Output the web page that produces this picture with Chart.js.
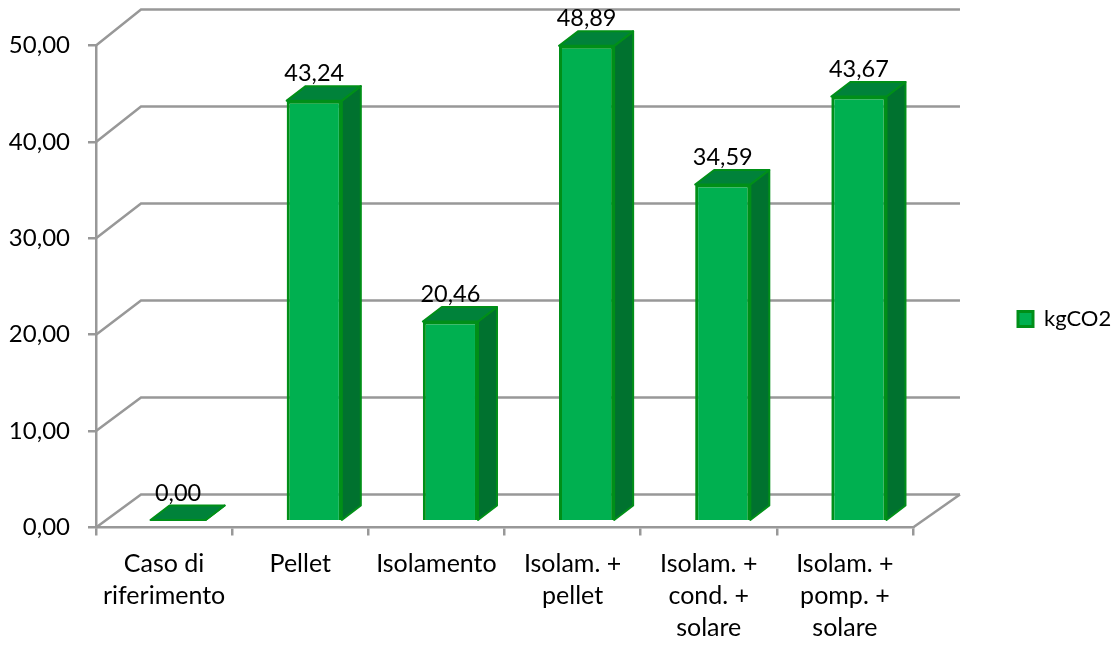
<!DOCTYPE html>
<html>
<head>
<meta charset="utf-8">
<title>kgCO2</title>
<script src="https://cdn.jsdelivr.net/npm/chart.js@4"></script>
<style>
  html, body { margin: 0; padding: 0; background: #fff; }
  #wrap { width: 1119px; height: 646px; }
</style>
</head>
<body>
<div id="wrap"><canvas id="chart"></canvas></div>
<script>
const categories = [
    ['Caso di', 'riferimento'],
    'Pellet',
    'Isolamento',
    ['Isolam. +', 'pellet'],
    ['Isolam. +', 'cond. +', 'solare'],
    ['Isolam. +', 'pomp. +', 'solare']
];
const seriesName = 'kgCO2';
const co2Values = [0.00, 43.24, 20.46, 48.89, 34.59, 43.67];

const FONT = 'Lato, "Noto Sans", sans-serif';
const GREY = '#989898';
const FRONT = '#00B050', EDGE = '#008F18', TOP = '#00823A', SIDE = '#00722F';

// depth of the back wall, of the bars and where the bars sit on the floor
const wall = { dx: 45, dy: -33 };
const barDepth = { dx: 19, dy: -14.5 };
const barShift = { dx: 14, dy: -7.5 };

function fmt(v) {
    return v.toFixed(2).replace('.', ',');
}

function poly(ctx, pts, fill) {
    ctx.beginPath();
    pts.forEach((p, i) => i ? ctx.lineTo(p[0], p[1]) : ctx.moveTo(p[0], p[1]));
    ctx.closePath();
    ctx.fillStyle = fill;
    ctx.fill();
    ctx.strokeStyle = EDGE;
    ctx.lineWidth = 2;
    ctx.lineJoin = 'round';
    ctx.stroke();
}

// Back wall, side wall and floor lines
const wallsPlugin = {
    id: 'walls',
    beforeDatasetsDraw(chart) {
        const { ctx, chartArea, scales } = chart;
        ctx.save();
        ctx.strokeStyle = GREY;
        ctx.lineWidth = 2.5;
        scales.y.ticks.forEach(t => {
            const y = scales.y.getPixelForValue(t.value);
            // the back wall reads on the taller scale too
            const backY = scales.yBars.getPixelForValue(t.value) + wall.dy;
            ctx.beginPath();
            ctx.moveTo(chartArea.left, y);
            ctx.lineTo(chartArea.left + wall.dx, backY);
            ctx.lineTo(chartArea.right + wall.dx + 2, backY);
            ctx.stroke();
        });
        ctx.beginPath();
        ctx.moveTo(chartArea.right, chartArea.bottom);
        ctx.lineTo(chartArea.right + wall.dx + 2, chartArea.bottom + wall.dy);
        ctx.stroke();
        ctx.restore();
    }
};

// Bar sides go under the dataset, the front face is shifted back on the floor
const bars3dPlugin = {
    id: 'bars3d',
    beforeDatasetDraw(chart, args) {
        const { ctx } = chart;
        ctx.save();
        ctx.translate(barShift.dx, barShift.dy);
        args.meta.data.forEach(bar => {
            const l = bar.x - bar.width / 2, r = bar.x + bar.width / 2;
            const d = barDepth;
            poly(ctx, [[r, bar.y], [r + d.dx, bar.y + d.dy], [r + d.dx, bar.base + d.dy], [r, bar.base]], SIDE);
            poly(ctx, [[l, bar.y], [l + d.dx, bar.y + d.dy], [r + d.dx, bar.y + d.dy], [r, bar.y]], TOP);
        });
    },
    afterDatasetDraw(chart, args) {
        const { ctx } = chart;
        ctx.restore();
        // value labels
        ctx.save();
        ctx.font = '23.5px ' + FONT;
        ctx.fillStyle = '#000';
        ctx.textAlign = 'center';
        ctx.textBaseline = 'middle';
        args.meta.data.forEach((bar, i) => {
            ctx.fillText(fmt(co2Values[i]), bar.x + barShift.dx, bar.y + barShift.dy - 27);
        });
        ctx.restore();
    }
};

// The legend sits far from the plot, middle of the right margin
const legendSpotPlugin = {
    id: 'legendSpot',
    afterLayout(chart) {
        const lg = chart.legend;
        const w = lg.right - lg.left, h = lg.bottom - lg.top;
        lg.left = 1011; lg.right = 1011 + w;
        lg.top = 319 - h / 2; lg.bottom = 319 + h / 2;
    }
};

new Chart(document.getElementById('chart'), {
    type: 'bar',
    data: {
        labels: categories,
        datasets: [{
            label: seriesName,
            data: co2Values,
            yAxisID: 'yBars',
            backgroundColor: FRONT,
            borderColor: EDGE,
            borderWidth: 3,
            barPercentage: 0.405,
            categoryPercentage: 1
        }]
    },
    plugins: [wallsPlugin, bars3dPlugin, legendSpotPlugin],
    options: {
        responsive: true,
        maintainAspectRatio: false,
        animation: false,
        layout: { padding: { top: 45.5, left: 0, right: 95.8, bottom: 0 } },
        plugins: {
            tooltip: { enabled: false },
            legend: {
                position: 'right',
                labels: {
                    boxWidth: 15,
                    boxHeight: 15,
                    padding: 7,
                    color: '#000',
                    font: { family: FONT, size: 22 }
                }
            }
        },
        scales: {
            x: {
                grid: { drawOnChartArea: false, offset: true, color: GREY, lineWidth: 2.5, tickLength: 8 },
                border: { color: GREY, width: 2.5 },
                ticks: {
                    color: '#000',
                    padding: 12.5,
                    maxRotation: 0,
                    autoSkip: false,
                    font: { family: FONT, size: 25, lineHeight: 1.28 }
                },
                afterFit(s) { s.height = 118.5; }
            },
            y: {
                min: 0,
                max: 50,
                grid: { drawOnChartArea: false, color: GREY, lineWidth: 2.5, tickLength: 8 },
                border: { color: GREY, width: 2.5 },
                ticks: {
                    stepSize: 10,
                    color: '#000',
                    padding: 18,
                    font: { family: FONT, size: 24 },
                    callback: v => fmt(v)
                },
                afterFit(s) { s.width = 96; }
            },
            // bars stand further back in the 3D box, so their own scale is a bit taller
            yBars: {
                display: false,
                min: 0,
                max: 49.7
            }
        }
    }
});
</script>
</body>
</html>
